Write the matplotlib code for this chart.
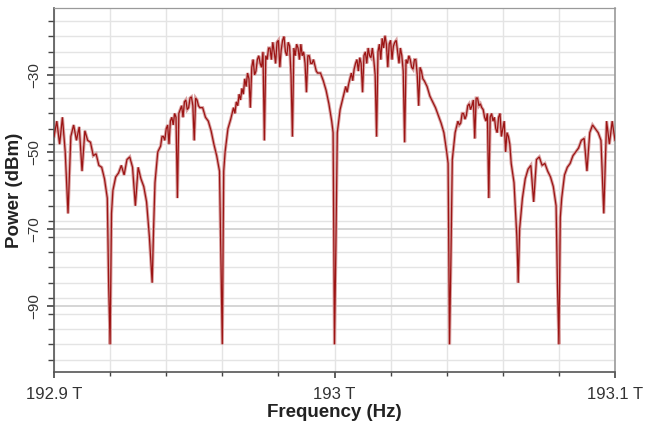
import matplotlib
matplotlib.use("Agg")
import matplotlib.pyplot as plt
from matplotlib.ticker import MultipleLocator, FixedLocator, FixedFormatter

# ---- data ----
# frequency offset from 192.9 THz, in GHz
freq_ghz = [
    0, 1, 2, 3, 4, 5, 6, 7, 8, 9, 10, 11, 12, 13, 14, 15, 16, 17, 18, 19, 19.5,
    20, 20.5, 21, 22, 23, 24, 25, 26, 27, 28, 29, 30, 31, 32, 33, 34, 34.5, 35, 35.5, 36,
    37, 38, 38.5, 39, 39.5, 40, 40.5, 41, 41.5, 42, 42.5, 43, 43.5, 44, 44.5, 45, 45.5,
    46, 46.5, 47, 47.5, 48, 48.5, 49, 49.5, 50, 50.5, 51, 51.5, 52, 53, 54, 55, 56, 57,
    58, 59, 59.5,
    60, 60.5,
    61, 62, 63,
    64, 64.5, 65, 65.5, 66, 66.5, 67, 67.5, 68, 68.5,
    69, 69.5, 70, 70.5, 71, 71.5, 72, 72.5, 73, 73.5,
    74, 74.5, 75, 75.5, 76, 76.5, 77, 77.5, 78, 78.5,
    79, 79.5, 80, 80.5, 81, 81.5, 82, 82.5, 83, 83.5,
    84, 84.5, 85, 85.5, 86, 86.5, 87, 87.5, 88, 88.5,
    89, 89.5, 90, 90.5, 91, 91.5, 92, 92.5, 93, 93.5,
    94, 95, 96, 97, 98, 99, 99.5,
    100, 100.5,
    101, 102, 103, 104,
    104.5, 105, 105.5, 106, 106.5, 107, 107.5, 108, 108.5, 109,
    109.5, 110, 110.5, 111, 111.5, 112, 112.5, 113, 113.5, 114,
    114.5, 115, 115.5, 116, 116.5, 117, 117.5, 118, 118.5, 119,
    119.5, 120, 120.5, 121, 121.5, 122, 122.5, 123, 123.5, 124,
    124.5, 125, 125.5, 126, 126.5, 127, 127.5, 128, 128.5, 129,
    129.5, 130, 130.5, 131, 131.5,
    132, 133, 134, 135, 136, 137, 138, 139, 140, 140.5,
    141, 141.5,
    142, 143, 144,
    144.5, 145, 145.5, 146, 146.5, 147, 147.5, 148, 148.5, 149,
    149.5, 150, 150.5, 151, 151.5, 152, 152.5, 153, 153.5, 154,
    154.5, 155, 155.5, 156, 156.5, 157, 157.5, 158, 158.5, 159,
    159.5, 160, 160.5, 161, 161.5, 162, 162.5,
    163, 164, 165, 165.5, 166, 167, 168, 169, 170, 171, 172, 173, 174, 175, 176, 177,
    178, 179, 179.5,
    180, 180.5, 181, 182, 183, 184, 185, 186, 187, 188, 189, 190, 191, 192, 193, 194,
    195, 196, 197, 198, 199, 200,
]

power_dbm = [
    -46, -42, -48, -41, -50, -66, -46, -43, -47, -43.5, -55, -44.5, -47, -47.5, -51, -50.5,
    -53.5, -54, -57, -62, -85,
    -100, -66, -60, -56.5, -55.5, -53.5, -56, -52, -51.3, -54, -64, -54, -57, -59, -63,
    -72, -78, -84, -70, -58,
    -50, -48.5, -46, -46, -47, -44, -43, -48, -42, -41, -43, -40, -41, -62, -40, -39, -38,
    -41, -37, -36.5, -39, -38.5, -36, -35.7, -38, -47, -36, -36.5, -38, -38.5, -38.5, -41,
    -42, -44.5, -48, -51, -55, -77,
    -100, -55,
    -50, -44, -41.5,
    -38.5, -40, -37, -38, -35, -36.5, -33.5, -35, -31, -33,
    -29.5, -31, -38.5, -28, -26, -30, -29, -26, -25, -27,
    -28, -24, -47, -25, -26, -23, -23, -26, -21.5, -24,
    -27, -21.5, -21, -28, -23.5, -21, -20, -24, -25, -21.5,
    -22.5, -30, -46, -23, -25, -22, -23, -26, -22, -25,
    -24, -27, -34.5, -25, -25, -27, -27, -26, -27.5, -29,
    -29.5, -29.5, -31.5, -34, -37.5, -42, -45,
    -100, -74,
    -45, -39, -36, -33,
    -34.5, -32.5, -31, -29.5, -31.5, -28.5, -27, -26, -29, -25.5,
    -27, -34.5, -25, -24, -27, -23, -25, -25.5, -23, -26,
    -30, -46, -24, -22, -26, -20.5, -23, -19.8, -22, -28,
    -22, -21, -26, -22.5, -21.5, -21, -24, -27, -23, -25,
    -29, -47.5, -26, -27, -25, -26, -28, -28.5, -26, -26,
    -30, -38, -28, -29, -31,
    -31.5, -33, -35.5, -37, -38.5, -40.5, -42.5, -45, -50, -53,
    -100, -78,
    -52, -45, -42,
    -43, -42.5, -40, -40, -41.5, -40.5, -38, -37.5, -39, -38,
    -36.5, -46.5, -36, -36, -38, -37.5, -38.5, -39, -41, -42,
    -40, -62, -41, -40, -42, -41, -44, -45, -41, -40,
    -46, -44, -42, -50, -45, -46, -48,
    -53, -58, -72, -84, -70, -62, -57, -54.5, -53.5, -63, -52, -51.3, -53.5, -53, -55,
    -56.5, -59, -64, -85,
    -100, -67, -62, -56, -54, -53, -51, -50, -49, -47, -46.5, -55, -45, -43, -44, -45,
    -47, -66, -42, -48, -42, -47,
]
assert len(freq_ghz) == len(power_dbm)

x_tick_vals = [192.9, 193.0, 193.1]
x_tick_labels = ["192.9 T", "193 T", "193.1 T"]
y_tick_vals = [-30, -50, -70, -90]

freq_thz = [192.9 + g / 1000.0 for g in freq_ghz]

plt.rcParams['font.family'] = ['Liberation Sans', 'DejaVu Sans']

fig = plt.figure(figsize=(6.47, 4.29), dpi=100)
ax = fig.add_axes([54 / 647, 1 - 372 / 429, (615 - 54) / 647, (372 - 8) / 429])

# soft halo + dark red core, like the reference trace
ax.plot(freq_thz, power_dbm, color="#d9a3a3", lw=2.3, solid_joinstyle="miter", zorder=2)
ax.plot(freq_thz, power_dbm, color="#9c1414", lw=0.9, solid_joinstyle="miter", zorder=3)

ax.set_xlim(192.9, 193.1)
ax.set_ylim(-107.2, -12.6)

# grid
ax.xaxis.set_major_locator(FixedLocator(x_tick_vals))
ax.xaxis.set_major_formatter(FixedFormatter(x_tick_labels))
ax.xaxis.set_minor_locator(MultipleLocator(0.02))
ax.yaxis.set_major_locator(FixedLocator(y_tick_vals))
ax.yaxis.set_minor_locator(MultipleLocator(4))
ax.grid(which="minor", axis="both", color="#e4e4e4", lw=1.0)
ax.grid(which="major", axis="y", color="#d2d2d2", lw=1.3)
ax.grid(which="major", axis="x", color="#e4e4e4", lw=1.0)
ax.set_axisbelow(True)

# spines
for s in ["left", "bottom"]:
    ax.spines[s].set_color("#555555")
    ax.spines[s].set_linewidth(1.2)
ax.spines["bottom"].set_linestyle((0, (3, 1)))
ax.spines["top"].set_color("#9a9a9a")
ax.spines["top"].set_linestyle((0, (3, 1)))
ax.spines["top"].set_linewidth(0.9)
ax.spines["right"].set_color("#9a9a9a")
ax.spines["right"].set_linestyle((0, (1, 1)))
ax.spines["right"].set_linewidth(1.2)

ax.tick_params(axis="both", which="both", direction="out", colors="#444444",
               labelcolor="#333333")
ax.tick_params(axis="y", which="major", length=5, width=1.2, labelsize=11,
               labelrotation=90, pad=4)
ax.tick_params(axis="y", which="minor", length=4, width=1.0)
ax.tick_params(axis="x", which="major", length=4, width=1.2, labelsize=12, pad=7)
ax.tick_params(axis="x", which="minor", length=3, width=1.0)
for lab in ax.get_yticklabels():
    lab.set_verticalalignment("center")

ax.set_xlabel("Frequency (Hz)", fontsize=13.5, fontweight="bold", color="#222222",
              labelpad=1)
ax.set_ylabel("Power (dBm)", fontsize=13.5, fontweight="bold", color="#222222",
              labelpad=3)

fig.savefig("out.png", dpi=100, facecolor="white")
